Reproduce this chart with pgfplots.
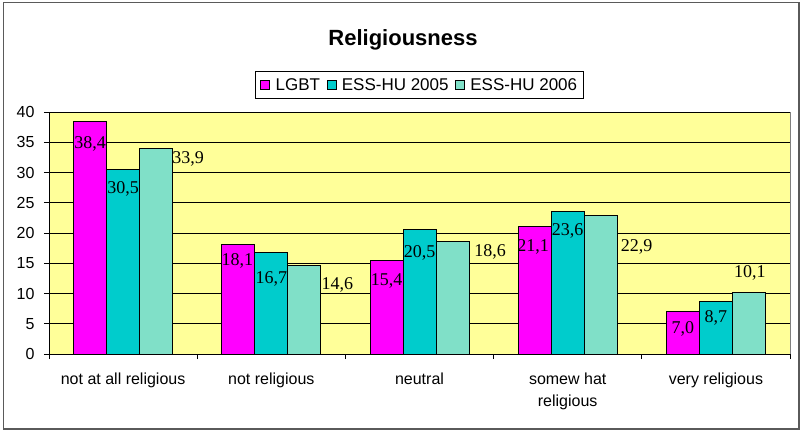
\documentclass[border=0pt]{standalone}
\usepackage{fontspec}
\setmainfont{Liberation Sans}
\newfontfamily\labelfont{Liberation Serif}
\usepackage{pgfplots}
\pgfplotsset{compat=1.18}
\usepackage{pgfplotstable}
\definecolor{cLGBT}{HTML}{FF00FF}
\definecolor{cA}{HTML}{00CCCC}
\definecolor{cB}{HTML}{80E0C8}
\definecolor{bgy}{HTML}{FFFF99}
\definecolor{framegray}{HTML}{808080}
\definecolor{outergray}{HTML}{5A5A5A}

\pgfplotstableread{
x y dx dy
0 38.4 0 -22
1 18.1 -1 -16.5
2 15.4 0 -20
3 21.1 -1.5 -21
4 7.0 0 -17
}\lgbt
\pgfplotstableread{
x y dx dy
0 30.5 0 -19.5
1 16.7 0 -26
2 20.5 0 -23
3 23.6 0 -20
4 8.7 0 -17
}\essa
\pgfplotstableread{
x y dx dy
0 33.9 32 -10
1 14.6 33 -19
2 18.6 37.5 -10.5
3 22.9 36 -31.5
4 10.1 1 20
}\essb

\begin{document}
\begin{tikzpicture}
\useasboundingbox (0,0) rectangle (802pt,-431pt);
\draw[outergray, line width=1.5pt] (3.5pt,-2.5pt) rectangle (799pt,-429pt);
\node[font=\fontsize{22}{26}\selectfont\bfseries, anchor=base] at (403pt,-45pt) {Religiousness};
\begin{axis}[
  at={(49pt,-354pt)}, anchor=south west,
  scale only axis, width=741pt, height=242pt,
  ybar=0pt, bar width=33pt,
  xmin=-0.5, xmax=4.5, ymin=0, ymax=40,
  ytick={0,5,...,40},
  xtick={0,1,2,3,4},
  xticklabels={not at all religious, not religious, neutral, {somew hat\\religious}, very religious},
  xticklabel style={align=center, yshift=-10pt},
  yticklabel style={xshift=-6pt},
  minor xtick={-0.5,0.5,1.5,2.5,3.5,4.5},
  major x tick style={draw=none},
  minor tick length=5pt, major tick length=5pt,
  tick align=outside,
  axis x line*=bottom, axis y line*=left,
  axis line style={black, line width=0.8pt, -},
  tick style={black, line width=0.8pt},
  ymajorgrids, major grid style={black, line width=0.6pt},
  axis background/.style={fill=bgy, draw=framegray},
  /pgf/number format/assume math mode=true,
  tick label style={font=\fontsize{16}{22}\selectfont},
  legend style={at={(0.5,1)}, anchor=south, yshift=13pt, draw=black, line width=0.8pt,
    font=\fontsize{17}{20}\selectfont, legend columns=3,
    inner xsep=5pt, inner ysep=5pt,
    nodes={inner xsep=1.5pt},
    /tikz/every odd column/.append style={column sep=4pt},
    /tikz/every even column/.append style={column sep=5pt}},
  legend image code/.code={\draw[#1,draw=black,line width=0.8pt] (0pt,-4.5pt) rectangle (9pt,4.5pt);},
  point meta=y,
  nodes near coords={\pgfmathprintnumber[fixed,fixed zerofill,precision=1,use comma]{\pgfplotspointmeta}},
  nodes near coords align=center,
  visualization depends on={\thisrow{dx}\as\dx},
  visualization depends on={\thisrow{dy}\as\dy},
  every node near coord/.append style={font=\labelfont\fontsize{18}{20}\selectfont, text=black, inner sep=0pt, xshift=\dx pt, yshift=\dy pt},
]
\addplot[fill=cLGBT, draw=black, line width=1pt] table[x=x,y=y] {\lgbt};
\addplot[fill=cA, draw=black, line width=1pt] table[x=x,y=y] {\essa};
\addplot[fill=cB, draw=black, line width=1pt] table[x=x,y=y] {\essb};
\legend{LGBT, ESS-HU 2005, ESS-HU 2006}
\end{axis}
\end{tikzpicture}
\end{document}
